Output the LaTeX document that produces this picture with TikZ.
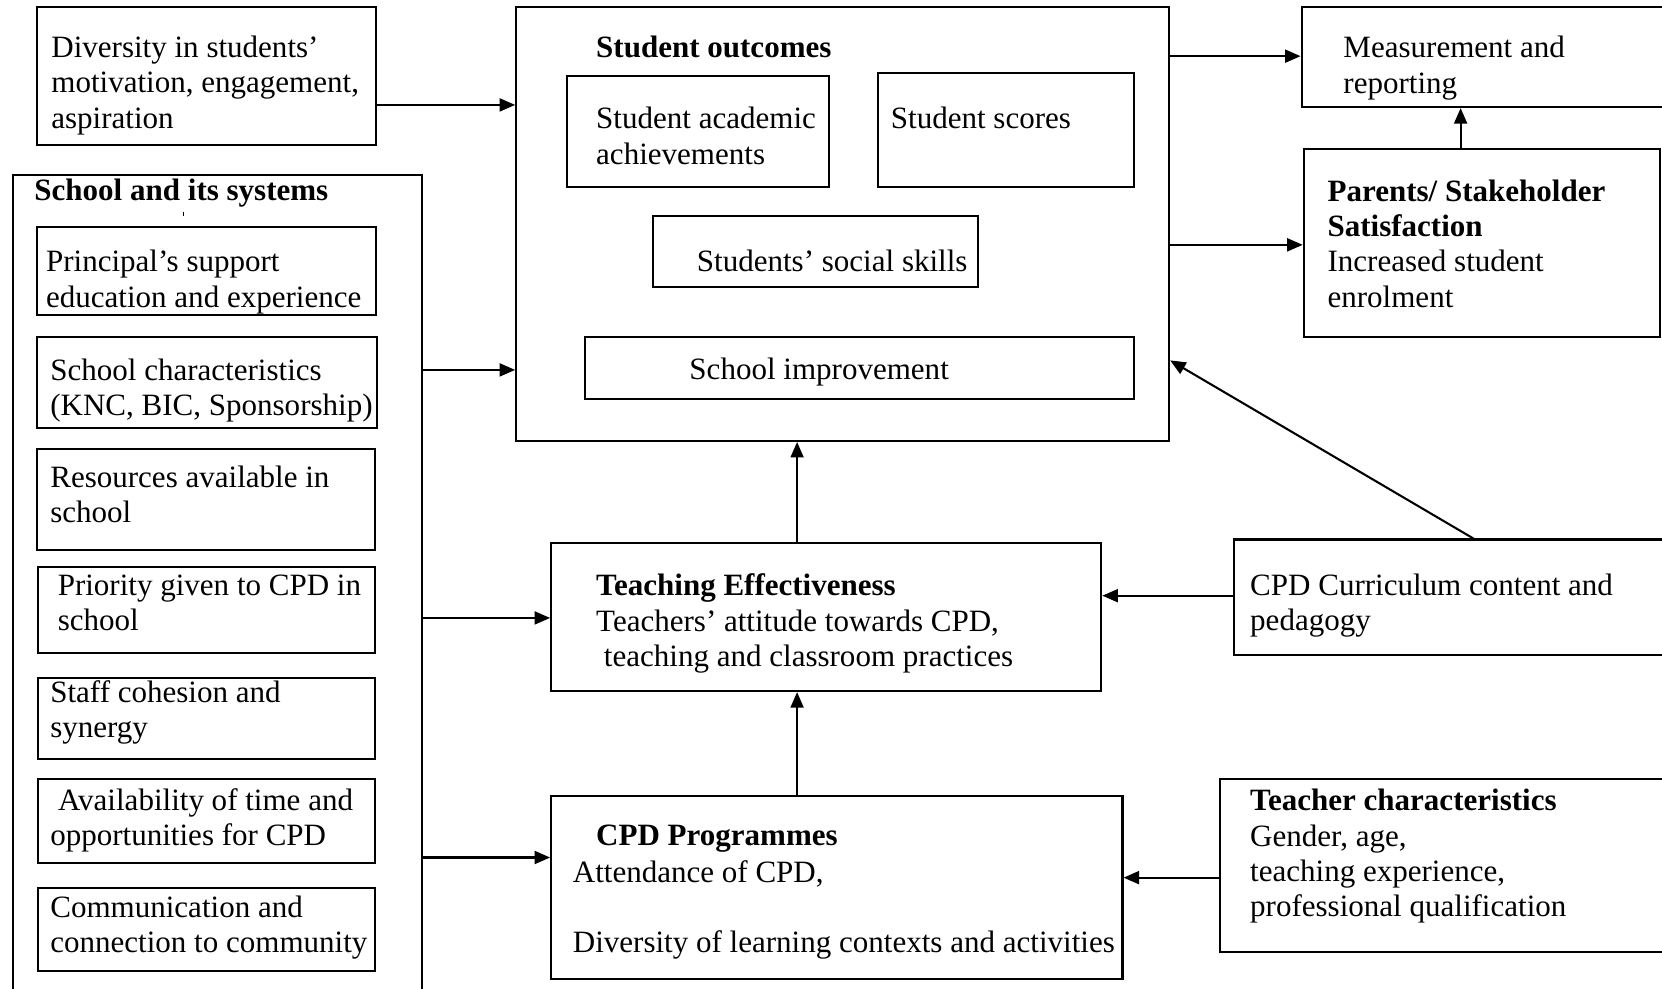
\documentclass[tikz,border=0pt]{standalone}
\usepackage{fontspec}
\setmainfont{Liberation Serif}
\usetikzlibrary{arrows.meta,fit}
\begin{document}
\begin{tikzpicture}[x=0.41pt,y=-0.41pt,
  box/.style={draw,line width=0.8pt,inner sep=0pt},
  lbl/.style={anchor=base west,align=left,inner sep=0pt,font=\fontsize{12}{13.7}\selectfont},
  arr/.style={line width=0.8pt,-{Triangle[length=6pt,width=5pt]}}]
\useasboundingbox (0,0) rectangle (1568,933);
\clip (0,0) rectangle (1568,933);
% boxes
\node[box,fit={(35,7)(355,137)}] (div) {};
\node[box,fit={(487,7)(1103,416)}] (out) {};
\node[box,fit={(535,72)(782,176)}] (acad) {};
\node[box,fit={(828,69)(1070,176)}] (scor) {};
\node[box,fit={(616,204)(923,271)}] (soc) {};
\node[box,fit={(552,318)(1070,376)}] (impr) {};
\node[box,fit={(1228,7)(1595,101)}] (meas) {};
\node[box,fit={(1230,141)(1566,318)}] (par) {};
\node[box,fit={(12,165)(398,960)}] (sch) {};
\node[box,fit={(35,214)(355,297)}] (prin) {};
\node[box,fit={(35,318)(356,404)}] (schc) {};
\node[box,fit={(35,424)(354,519)}] (res) {};
\node[box,fit={(36,535)(354,616)}] (prio) {};
\node[box,fit={(36,640)(354,716)}] (staff) {};
\node[box,fit={(36,735)(354,814)}] (avail) {};
\node[box,fit={(36,838)(354,916)}] (comm) {};
\node[box,fit={(520,512)(1039,652)}] (teach) {};
\node[box,fit={(520,751)(1059,924)}] (cpd) {};
\node[box,fit={(1164,509)(1595,618)}] (cur) {};
\node[box,fit={(1151,735)(1595,898)}] (tch) {};
% texts (anchored at the baseline of the last line)
\node[lbl] (tdiv) at (48,121) {Diversity in students'\\motivation, engagement,\\aspiration};
\node[lbl] (tout) at (562,54) {\bfseries Student outcomes};
\node[lbl] (tacad) at (562,155) {Student academic\\achievements};
\node[lbl] (tscor) at (840,121) {Student scores};
\node[lbl] (tsoc) at (657,256) {Students' social skills};
\node[lbl] (timpr) at (650,358) {School improvement};
\node[lbl] (tmeas) at (1267,88) {Measurement and\\reporting};
\node[lbl] (tpar) at (1252,290) {\bfseries Parents/ Stakeholder\\\bfseries Satisfaction\\Increased student\\enrolment};
\node[lbl] (tsch) at (32,189) {\bfseries School and its systems};
\node[lbl] (tprin) at (43,290) {Principal's support\\education and experience};
\node[lbl] (tschc) at (47,392) {School characteristics\\(KNC, BIC, Sponsorship)};
\node[lbl] (tres) at (47,493) {Resources available in\\school};
\node[lbl] (tprio) at (54,595) {Priority given to CPD in\\school};
\node[lbl] (tstaff) at (47,696) {Staff cohesion and\\synergy};
\node[lbl] (tavail) at (47,798) {\hspace*{3pt}Availability of time and\\opportunities for CPD};
\node[lbl] (tcomm) at (47,899) {Communication and\\connection to community};
\node[lbl] (tteach) at (562,629) {\bfseries Teaching Effectiveness\\Teachers' attitude towards CPD,\\\hspace*{3pt}teaching and classroom practices};
\node[lbl] (tcpd) at (562,798) {\bfseries CPD Programmes};
\node[lbl] (tcpd2) at (540,899) {Attendance of CPD,\\[13.7pt]Diversity of learning contexts and activities};
\node[lbl] (tcur) at (1179,595) {CPD Curriculum content and\\pedagogy};
\node[lbl] (ttch) at (1179,865) {\bfseries Teacher characteristics\\Gender, age,\\teaching experience,\\professional qualification};
\draw[line width=0.5pt] (173,200) -- (173,204);
% connector levels
\coordinate (h99) at (0,99);
\coordinate (h53) at (0,53);
\coordinate (h231) at (0,231);
\coordinate (h349) at (0,349);
\coordinate (h583) at (0,583);
\coordinate (h809) at (0,809);
\coordinate (h562) at (0,562);
\coordinate (h828) at (0,828);
\coordinate (h340) at (0,340);
\coordinate (v1378) at (1378,0);
\coordinate (v752) at (752,0);
\coordinate (v1390) at (1390,0);
% connectors
\draw[arr] (div.east|-h99) -- (out.west|-h99);
\draw[arr] (out.east|-h53) -- (meas.west|-h53);
\draw[arr] (out.east|-h231) -- (par.west|-h231);
\draw[arr] (par.north-|v1378) -- (meas.south-|v1378);
\draw[arr] (sch.east|-h349) -- (out.west|-h349);
\draw[arr] (sch.east|-h583) -- (teach.west|-h583);
\draw[arr] (sch.east|-h809) -- (cpd.west|-h809);
\draw[arr] (teach.north-|v752) -- (out.south-|v752);
\draw[arr] (cpd.north-|v752) -- (teach.south-|v752);
\draw[arr] (cur.west|-h562) -- (teach.east|-h562);
\draw[arr] (tch.west|-h828) -- (cpd.east|-h828);
\draw[arr] (cur.north-|v1390) -- (out.east|-h340);
\end{tikzpicture}
\end{document}
